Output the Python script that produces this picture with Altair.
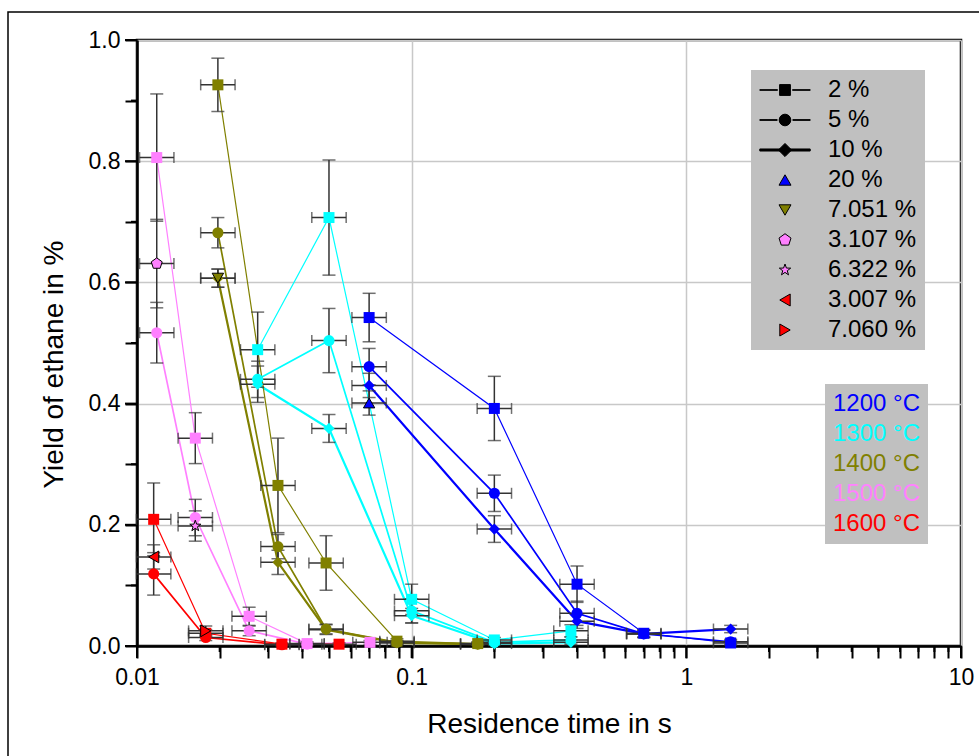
import altair as alt
import pandas as pd

# ---------------- data ----------------
TEMPS = ["1200 °C", "1300 °C", "1400 °C", "1500 °C", "1600 °C"]
TEMP_COLORS = ["#0000ff", "#00ffff", "#808000", "#ff80ff", "#ff0000"]
SERIES = ["2 %", "5 %", "10 %", "20 %", "7.051 %", "3.107 %", "6.322 %", "3.007 %", "7.060 %"]
LINE_SERIES = ["2 %", "5 %", "10 %"]
SINGLE_SERIES = ["20 %", "7.051 %", "3.107 %", "6.322 %", "3.007 %", "7.060 %"]

# 1200 °C
t_1200 = [0.07, 0.2, 0.4, 0.7, 1.45]
y_1200_2 = [0.542, 0.392, 0.102, 0.021, 0.005]
e_1200_2 = [0.040, 0.053, 0.030, 0.006, 0.004]
y_1200_5 = [0.461, 0.252, 0.054, 0.020, 0.007]
e_1200_5 = [0.030, 0.030, 0.020, 0.006, 0.004]
y_1200_10 = [0.430, 0.193, 0.041, 0.020, 0.028]
e_1200_10 = [0.020, 0.022, 0.012, 0.006, 0.006]
t_1200_20 = [0.07]
y_1200_20 = [0.401]
e_1200_20 = [0.020]

# 1300 °C
t_1300 = [0.0275, 0.05, 0.1, 0.2, 0.38]
y_1300_2 = [0.489, 0.707, 0.077, 0.010, 0.025]
e_1300_2 = [0.062, 0.095, 0.025, 0.004, 0.010]
y_1300_5 = [0.440, 0.504, 0.058, 0.006, 0.010]
e_1300_5 = [0.030, 0.053, 0.020, 0.003, 0.005]
y_1300_10 = [0.432, 0.359, 0.050, 0.004, 0.006]
e_1300_10 = [0.030, 0.023, 0.012, 0.003, 0.004]

# 1400 °C
t_1400 = [0.0197, 0.0326, 0.0488, 0.0884, 0.174]
y_1400_2 = [0.926, 0.265, 0.137, 0.008, 0.004]
e_1400_2 = [0.044, 0.078, 0.045, 0.004, 0.003]
y_1400_5 = [0.682, 0.164, 0.028, 0.006, 0.003]
e_1400_5 = [0.025, 0.020, 0.008, 0.003, 0.002]
y_1400_10 = [0.607, 0.138, 0.027, 0.005, 0.003]
e_1400_10 = [0.015, 0.020, 0.008, 0.003, 0.002]
t_1400_7051 = [0.0197]
y_1400_7051 = [0.607]
e_1400_7051 = [0.015]

# 1500 °C
t_1500_2 = [0.0118, 0.0163, 0.0256, 0.0416, 0.0705]
y_1500_2 = [0.806, 0.343, 0.049, 0.004, 0.006]
e_1500_2 = [0.105, 0.042, 0.015, 0.003, 0.003]
t_1500_5 = [0.0118, 0.0163, 0.0256, 0.0416]
y_1500_5 = [0.517, 0.212, 0.025, 0.003]
e_1500_5 = [0.050, 0.030, 0.008, 0.002]
t_1500_3107 = [0.0118]
y_1500_3107 = [0.631]
e_1500_3107 = [0.073]
t_1500_6322 = [0.0163]
y_1500_6322 = [0.198]
e_1500_6322 = [0.025]

# 1600 °C
t_1600_2 = [0.0115, 0.0178, 0.0337, 0.0544]
y_1600_2 = [0.209, 0.021, 0.003, 0.003]
e_1600_2 = [0.060, 0.006, 0.002, 0.002]
t_1600_5 = [0.0115, 0.0178, 0.0337]
y_1600_5 = [0.119, 0.014, 0.002]
e_1600_5 = [0.035, 0.005, 0.002]
t_1600_3007 = [0.0115]
y_1600_3007 = [0.147]
e_1600_3007 = [0.020]
t_1600_7060 = [0.0178]
y_1600_7060 = [0.025]
e_1600_7060 = [0.008]

X_ERR_FACTOR = 1.155  # relative residence-time uncertainty

X_TICKS = [0.01, 0.02, 0.03, 0.04, 0.05, 0.06, 0.07, 0.08, 0.09,
           0.1, 0.2, 0.3, 0.4, 0.5, 0.6, 0.7, 0.8, 0.9,
           1, 2, 3, 4, 5, 6, 7, 8, 9, 10]
Y_TICKS = [0.0, 0.1, 0.2, 0.3, 0.4, 0.5, 0.6, 0.7, 0.8, 0.9, 1.0]

groups = [
    ("1200 °C", "2 %", t_1200, y_1200_2, e_1200_2),
    ("1200 °C", "5 %", t_1200, y_1200_5, e_1200_5),
    ("1200 °C", "10 %", t_1200, y_1200_10, e_1200_10),
    ("1200 °C", "20 %", t_1200_20, y_1200_20, e_1200_20),
    ("1300 °C", "2 %", t_1300, y_1300_2, e_1300_2),
    ("1300 °C", "5 %", t_1300, y_1300_5, e_1300_5),
    ("1300 °C", "10 %", t_1300, y_1300_10, e_1300_10),
    ("1400 °C", "2 %", t_1400, y_1400_2, e_1400_2),
    ("1400 °C", "5 %", t_1400, y_1400_5, e_1400_5),
    ("1400 °C", "10 %", t_1400, y_1400_10, e_1400_10),
    ("1400 °C", "7.051 %", t_1400_7051, y_1400_7051, e_1400_7051),
    ("1500 °C", "2 %", t_1500_2, y_1500_2, e_1500_2),
    ("1500 °C", "5 %", t_1500_5, y_1500_5, e_1500_5),
    ("1500 °C", "3.107 %", t_1500_3107, y_1500_3107, e_1500_3107),
    ("1500 °C", "6.322 %", t_1500_6322, y_1500_6322, e_1500_6322),
    ("1600 °C", "2 %", t_1600_2, y_1600_2, e_1600_2),
    ("1600 °C", "5 %", t_1600_5, y_1600_5, e_1600_5),
    ("1600 °C", "3.007 %", t_1600_3007, y_1600_3007, e_1600_3007),
    ("1600 °C", "7.060 %", t_1600_7060, y_1600_7060, e_1600_7060),
]

rows = []
for temp, ser, ts, ys, es in groups:
    for t, y, e in zip(ts, ys, es):
        rows.append({"temp": temp, "series": ser, "t": t, "y": y, "e": e})
df = pd.DataFrame(rows)
xt_df = pd.DataFrame({"value": X_TICKS})
yt_df = pd.DataFrame({"value": Y_TICKS})

# ---------------- styling ----------------
FONT = "Liberation Sans"
W, H = 824, 606
PENTAGON = "M0,-1L0.951,-0.309L0.588,0.809L-0.588,0.809L-0.951,-0.309Z"
STAR = ("M0,-1L0.235,-0.324L0.951,-0.309L0.38,0.124L0.588,0.809L0,0.4"
        "L-0.588,0.809L-0.38,0.124L-0.951,-0.309L-0.235,-0.324Z")
PLOT_SHAPES = ["square", "circle", "diamond", "triangle-up", "triangle-down",
               PENTAGON, STAR, "triangle-left", "triangle-right"]
PLOT_SIZES = [121, 140, 180, 190, 190, 200, 210, 190, 190]

# legend symbols (unit = 6 px): line segments + marker
LEG_2 = ("M-4.2,-0.05H-1.25V0.05H-4.2Z M1.25,-0.05H4.2V0.05H1.25Z "
         "M-0.9,-0.9H0.9V0.9H-0.9Z")
LEG_5 = ("M-4.2,-0.06H-1.3V0.06H-4.2Z M1.3,-0.06H4.2V0.06H1.3Z "
         "M0.97,0A0.97,0.97,0,1,1,-0.97,0A0.97,0.97,0,1,1,0.97,0Z")
LEG_10 = "M-4.2,-0.17H4.2V0.17H-4.2Z M0,-1.1L1.1,0L0,1.1L-1.1,0Z"
PENT_L = "M0,-1.05L1.0,-0.32L0.62,0.85L-0.62,0.85L-1.0,-0.32Z"
STAR_L = ("M0,-1L0.235,-0.324L0.951,-0.309L0.38,0.124L0.588,0.809L0,0.4"
          "L-0.588,0.809L-0.38,0.124L-0.951,-0.309L-0.235,-0.324Z")
LEGEND_SHAPES = [LEG_2, LEG_5, LEG_10, "triangle-up", "triangle-down",
                 PENT_L, STAR_L, "triangle-left", "triangle-right"]
LEGEND_FILLS = ["black", "black", "black", "#0000ff", "#808000",
                "#ff80ff", "#ff80ff", "#ff0000", "#ff0000"]

DEC = "abs(log(datum.value)/LN10 - round(log(datum.value)/LN10)) < 0.001"
FIFTH = "abs(datum.value*5 - round(datum.value*5)) < 0.001"

x_axis = alt.Axis(
    title="Residence time in s", values=X_TICKS, labelFlush=False, labelOverlap=False,
    labelExpr=f"{DEC} ? format(datum.value, '~g') : ''",
    ticks=True, tickSize=12,
    gridOpacity={"condition": {"test": DEC, "value": 1}, "value": 0},
    labelPadding=8, titleY=86, titleBaseline="alphabetic",
)
y_axis = alt.Axis(
    title="Yield of ethane in %", values=Y_TICKS, labelFlush=False, labelOverlap=False,
    labelExpr=f"{FIFTH} ? format(datum.value, '.1f') : ''",
    ticks=True, tickSize=12,
    gridOpacity={"condition": {"test": FIFTH, "value": 1}, "value": 0},
    labelPadding=5, titleX=-75, titleY=324, titleBaseline="alphabetic",
)
x_scale = alt.Scale(type="log", domain=[0.01, 10], nice=False)
y_scale = alt.Scale(domain=[0, 1], nice=False)


def mapping_expr(keys, vals, default):
    s = ""
    for k, v in zip(keys, vals):
        s += f"datum.value == '{k}' ? '{v}' : "
    return s + f"'{default}'"


temp_legend = alt.Legend(
    title=None, orient="none", legendX=688, legendY=344, fillColor="#c0c0c0",
    padding=8, rowPadding=6, labelFont=FONT, labelFontSize=24,
    labelOffset=alt.ExprRef("-24"),
    symbolSize=0, symbolOpacity=0, symbolStrokeWidth=0, symbolOffset=0,
    symbolType="circle",
    labelColor=alt.ExprRef(mapping_expr(TEMPS, TEMP_COLORS, "black")),
)
color_enc = alt.Color("temp:N", scale=alt.Scale(domain=TEMPS, range=TEMP_COLORS),
                      legend=temp_legend)
X = alt.X("t:Q", scale=x_scale, axis=x_axis)
Y = alt.Y("y:Q", scale=y_scale, axis=y_axis)

base = alt.Chart(df)

frame = alt.Chart(alt.Data(values=[{"a": 1}])).mark_rect(
    fill="transparent", stroke="black", strokeWidth=1.5
).encode(x=alt.value(-129), x2=alt.value(900), y=alt.value(-28), y2=alt.value(800))

# axis tick marks (major / minor), positioned through the axis scales
xt = alt.Chart(xt_df).transform_calculate(major=DEC)
xtick_major = xt.transform_filter("datum.major").mark_rule(color="black", strokeWidth=2).encode(
    x=alt.X("value:Q", scale=x_scale, axis=x_axis), y=alt.value(H), y2=alt.value(H + 12))
xtick_minor = xt.transform_filter("!datum.major").mark_rule(color="black", strokeWidth=2).encode(
    x=alt.X("value:Q", scale=x_scale, axis=x_axis), y=alt.value(H), y2=alt.value(H + 6))
yt = alt.Chart(yt_df).transform_calculate(major=FIFTH)
ytick_major = yt.transform_filter("datum.major").mark_rule(color="black", strokeWidth=2).encode(
    y=alt.Y("value:Q", scale=y_scale, axis=y_axis), x=alt.value(0), x2=alt.value(-12))
ytick_minor = yt.transform_filter("!datum.major").mark_rule(color="black", strokeWidth=2).encode(
    y=alt.Y("value:Q", scale=y_scale, axis=y_axis), x=alt.value(0), x2=alt.value(-6))

lines = base.transform_filter(
    alt.FieldOneOfPredicate(field="series", oneOf=LINE_SERIES)
).mark_line().encode(
    x=X, y=Y, color=color_enc,
    strokeWidth=alt.StrokeWidth("series:N", scale=alt.Scale(domain=LINE_SERIES, range=[1.2, 2.2, 4]),
                                legend=None),
    detail="series:N", order="t:Q",
)

err = base.transform_calculate(
    xlo=f"datum.t / {X_ERR_FACTOR}", xhi=f"datum.t * {X_ERR_FACTOR}",
    ylo="max(0, datum.y - datum.e)", yhi="datum.y + datum.e",
)
EB = "#333333"
xbars = err.mark_rule(color=EB, strokeWidth=1.5).encode(
    x=alt.X("xlo:Q", scale=x_scale, axis=x_axis), x2="xhi:Q", y=Y)
ybars = err.mark_rule(color=EB, strokeWidth=1.5).encode(
    x=X, y=alt.Y("ylo:Q", scale=y_scale, axis=y_axis), y2="yhi:Q")
cap_xlo = err.mark_tick(orient="vertical", size=11, thickness=1.5, color=EB).encode(
    x=alt.X("xlo:Q", scale=x_scale, axis=x_axis), y=Y)
cap_xhi = err.mark_tick(orient="vertical", size=11, thickness=1.5, color=EB).encode(
    x=alt.X("xhi:Q", scale=x_scale, axis=x_axis), y=Y)
cap_ylo = err.mark_tick(orient="horizontal", size=13, thickness=1.5, color=EB).encode(
    x=X, y=alt.Y("ylo:Q", scale=y_scale, axis=y_axis))
cap_yhi = err.mark_tick(orient="horizontal", size=13, thickness=1.5, color=EB).encode(
    x=X, y=alt.Y("yhi:Q", scale=y_scale, axis=y_axis))

shape_enc = alt.Shape("series:N", scale=alt.Scale(domain=SERIES, range=PLOT_SHAPES), legend=None)
size_enc = alt.Size("series:N", scale=alt.Scale(domain=SERIES, range=PLOT_SIZES), legend=None)

pts_main = base.transform_filter(
    alt.FieldOneOfPredicate(field="series", oneOf=LINE_SERIES)
).mark_point(filled=True, opacity=1).encode(
    x=X, y=Y, color=color_enc, shape=shape_enc, size=size_enc)

pts_single = base.transform_filter(
    alt.FieldOneOfPredicate(field="series", oneOf=SINGLE_SERIES)
).mark_point(filled=True, opacity=1, stroke="black", strokeWidth=1).encode(
    x=X, y=Y, color=color_enc, shape=shape_enc, size=size_enc)

series_legend = alt.Legend(
    title=None, orient="none", legendX=614, legendY=30, fillColor="#c0c0c0",
    padding=8, rowPadding=6, labelFont=FONT, labelFontSize=24, labelColor="black",
    symbolSize=144, symbolOffset=14, labelOffset=31, symbolOpacity=1,
    symbolFillColor=alt.ExprRef(mapping_expr(SERIES, LEGEND_FILLS, "black")),
    symbolStrokeColor="black", symbolStrokeWidth=1,
)
legend_layer = base.transform_filter("false").mark_point(
    filled=True, opacity=1, stroke="black", strokeWidth=1
).encode(
    shape=alt.Shape("series:N", scale=alt.Scale(domain=SERIES, range=LEGEND_SHAPES),
                    legend=series_legend),
    fill=alt.Fill("series:N", scale=alt.Scale(domain=SERIES, range=LEGEND_FILLS),
                  legend=series_legend),
)

chart = alt.layer(
    frame, xtick_major, xtick_minor, ytick_major, ytick_minor,
    lines, xbars, ybars, cap_xlo, cap_xhi, cap_ylo, cap_yhi,
    pts_main, pts_single, legend_layer,
).resolve_scale(shape="independent").properties(
    width=W, height=H,
    autosize=alt.AutoSizeParams(type="none"),
    padding={"left": 137, "top": 40, "right": 18, "bottom": 110},
    background="white",
).configure(
    font=FONT,
).configure_view(
    stroke="black", strokeWidth=2.5,
).configure_axis(
    domainColor="black", domainWidth=2.5, tickColor="black", tickWidth=2,
    labelFont=FONT, labelFontSize=23, labelColor="black",
    titleFont=FONT, titleFontSize=28, titleFontWeight="normal", titleColor="black",
    gridColor="#c8c8c8", gridWidth=1.5,
)

chart.save("out.html", embed_options={"renderer": "svg", "actions": False})
